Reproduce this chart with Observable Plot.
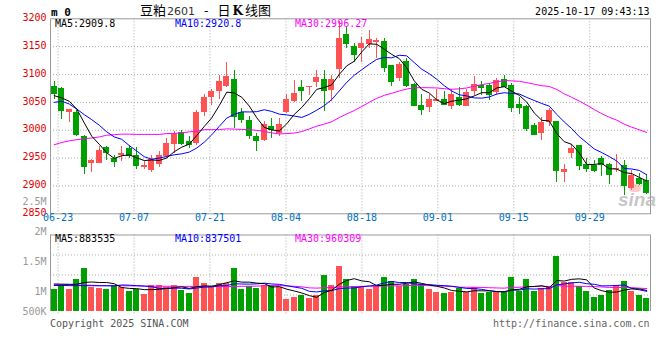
<!DOCTYPE html>
<html><head><meta charset="utf-8">
<script src="https://cdn.jsdelivr.net/npm/d3@7"></script>
<script src="https://cdn.jsdelivr.net/npm/@observablehq/plot@0.6"></script>
<style>
body{margin:0;background:#fff;}
#wrap{position:relative;width:660px;height:360px;overflow:hidden;font-family:"DejaVu Sans Mono",monospace;font-size:10px;background:#fff;}
.t{position:absolute;white-space:pre;line-height:10px;}
#main,#vol{position:absolute;left:0;}
#main{top:0px}
#vol{top:190px}
.ttl span{display:inline-block;}
</style></head><body>
<div id="wrap">
  <div id="main"></div>
  <div id="vol"></div>
  <div class="t" style="left:51px;top:6.5px;font-weight:bold;font-size:11px;line-height:11px;">m 0</div>
  <div class="t ttl" style="left:140px;top:3px;font-family:'Noto Sans CJK SC';font-size:13px;line-height:14px;"><span>豆粕</span><span style="font-family:'DejaVu Sans';font-size:11px;color:#333;margin-left:1px">2601</span><span style="margin-left:9px">-</span><span style="margin-left:9px">日</span><span style="font-family:'DejaVu Serif';font-weight:bold;font-size:12px;margin:0 2px">K</span><span>线图</span></div>
  <div class="t" style="right:10.5px;top:7px;">2025-10-17 09:43:13</div>
  <div class="t" style="left:55px;top:18.5px;color:#000">MA5:2909.8</div>
  <div class="t" style="left:175px;top:18.5px;color:#0000ff">MA10:2920.8</div>
  <div class="t" style="left:295px;top:18.5px;color:#ff00ff">MA30:2996.27</div>
  <div class="t" style="left:55px;top:233.5px;color:#000">MA5:883535</div>
  <div class="t" style="left:175px;top:233.5px;color:#0000ff">MA10:837501</div>
  <div class="t" style="left:295px;top:233.5px;color:#ff00ff">MA30:960309</div>
  <div class="t" style="left:50px;top:318.5px;color:#555">Copyright 2025 SINA.COM</div>
  <div class="t" style="right:10.5px;top:319px;color:#666">http://finance.sina.com.cn</div>
  <div style="position:absolute;left:629px;top:184px;width:12px;height:8px;border-radius:6px;background:rgba(240,110,110,0.35);"></div>
  <div class="t" style="left:618px;top:190px;font-family:'Liberation Sans';font-style:italic;font-weight:bold;font-size:19px;line-height:19px;color:rgba(160,160,160,0.6);">sina</div>
</div>
<script>
// ---- data ----
const dates = ["06-20","06-23","06-24","06-25","06-26","06-27","06-30",
  "07-01","07-02","07-03","07-04","07-07","07-08","07-09","07-10","07-11","07-14","07-15","07-16","07-17","07-18",
  "07-21","07-22","07-23","07-24","07-25","07-28","07-29","07-30","07-31",
  "08-01","08-04","08-05","08-06","08-07","08-08","08-11","08-12","08-13","08-14","08-15",
  "08-18","08-19","08-20","08-21","08-22","08-25","08-26","08-27","08-28","08-29",
  "09-01","09-02","09-03","09-04","09-05","09-08","09-09","09-10","09-11","09-12",
  "09-15","09-16","09-17","09-18","09-19","09-22","09-23","09-24","09-25","09-26","09-29","09-30",
  "10-09","10-10","10-13","10-14","10-15","10-16","10-17"];
const opens = [3078,3075,3032,3031,2988,2940,2941,2969,2950,2954,
  2967,2955,2933,2928,2939,2952,2975,2996,2980,2977,
  3031,3059,3069,3078,3091,3031,3018,2989,2982,3007,
  2995,3031,3052,3077,3078,3086,3091,3071,3109,3172,
  3150,3146,3153,3158,3159,3116,3093,3123,3082,3044,
  3040,3052,3055,3043,3059,3043,3069,3080,3080,3067,
  3091,3080,3046,3043,3009,2995,3013,3015,2925,2958,
  2973,2939,2937,2949,2939,2930,2937,2896,2913,2910];
const highs = [3087,3077,3038,3036,2990,2948,2971,2971,2955,2970,
  2972,2969,2944,2954,2961,2985,2997,3000,2989,3035,
  3064,3074,3098,3122,3108,3039,3024,2994,3015,3021,
  3021,3064,3089,3089,3079,3108,3107,3098,3196,3185,
  3155,3167,3179,3165,3164,3117,3122,3128,3083,3064,
  3064,3073,3070,3074,3076,3074,3096,3087,3083,3092,
  3098,3083,3058,3044,3012,3022,3039,3016,2939,2974,
  2973,2949,2945,2952,2940,2956,2945,2928,2923,2918];
const lows = [3056,3019,3014,2988,2920,2925,2941,2946,2934,2943,
  2949,2930,2930,2924,2934,2949,2959,2973,2968,2973,
  3024,3044,3056,3077,3003,3012,2984,2962,2979,2986,
  2988,3030,3049,3052,3062,3077,3033,3052,3092,3147,
  3122,3122,3146,3129,3104,3079,3088,3077,3042,3027,
  3031,3052,3044,3037,3042,3042,3062,3062,3053,3062,
  3077,3031,3028,2997,2990,2982,3006,2906,2907,2949,
  2928,2925,2924,2917,2903,2925,2883,2892,2900,2885];
const closes = [3066,3035,3037,2993,2935,2946,2963,2960,2943,2959,
  2954,2936,2936,2948,2955,2976,2992,2977,2975,3032,
  3058,3069,3087,3096,3024,3020,2990,2982,3010,3001,
  3010,3055,3066,3072,3079,3095,3071,3091,3165,3156,
  3136,3155,3163,3161,3113,3088,3118,3080,3044,3037,
  3055,3056,3047,3065,3047,3067,3082,3076,3065,3089,
  3079,3041,3040,3003,2992,3013,3035,2927,2930,2968,
  2936,2932,2927,2939,2921,2932,2901,2918,2905,2889];
// volumes in thousands, read against the chart's printed volume axis
const volumes = [1033,1100,1033,1200,1388,1072,1055,1033,1100,1072,
  1000,1033,950,1100,1100,1072,1100,1017,972,1238,
  1138,1083,1138,1138,1388,1033,1083,1055,1100,1100,
  1072,867,905,933,878,933,1267,1100,1417,1200,
  1083,1083,1033,1083,1238,1167,1083,1112,1200,1112,
  1033,978,972,988,1045,988,1072,962,988,978,
  978,1238,1000,1200,1000,1045,1083,1588,1155,1145,
  1083,1000,905,933,1017,1100,1167,1000,933,888];
// moving-average values at the left edge (history before the window)
const ma5Head = [3062,3058,3052,3038];
const ma10Head = [3050,3052,3047,3038,3028,3019,3009,2997,2988];
const ma30Head = [2974,2978,2981,2983,2985,2986,2988,2991,2992,2993,
  2993,2992.5,2992.5,2992.5,2992.5,2994,2994,2995.5,2997,2998,
  3001,3001,3001,3002.5,3002,3001.5,3001,2999.7,2998];
const ma5VolHead = [1125,1122,1120,1120];
const ma10VolHead = [1100,1100,1098,1098,1097,1096,1095,1094,1094];
const ma30VolHead = [1112,1112,1110,1108,1106,1104,1100,1100,1098,1096,
  1094,1092,1090,1088,1088,1086,1086,1085,1085,1084,
  1084,1083,1083,1083,1084,1086,1088,1090,1094];
const priceTicks = [3200,3150,3100,3050,3000,2950,2900,2850];
const volTicks = [2500,2000,1500,1000,500];
const volTickLabels = ["2.5M","2M","1.5M","1M","500K"];
const dateTicks = ["06-23","07-07","07-21","08-04","08-18","09-01","09-15","09-29"];

// ---- build ----
const N = dates.length;
const UP = "#ff5353", DOWN = "#00a000";
const bars = dates.map((date,i)=>({i, date, open:opens[i], high:highs[i], low:lows[i], close:closes[i], vol:volumes[i], up: closes[i] >= opens[i]}));
const movingAvg = (vals, n, head) => vals.map((v,i) => i < n-1 ? head[i] : d3.mean(vals.slice(i-n+1, i+1)));
const ma5 = movingAvg(closes,5,ma5Head), ma10 = movingAvg(closes,10,ma10Head), ma30 = movingAvg(closes,30,ma30Head);
const vma5 = movingAvg(volumes,5,ma5VolHead), vma10 = movingAvg(volumes,10,ma10VolHead), vma30 = movingAvg(volumes,30,ma30VolHead);
// Sina spreads its date grid over N-1 steps across the panel
const gridX = d => dates.indexOf(d) * N / (N - 1);
const cx = (d,i) => i + 0.5;
const grid = {stroke:"#aaa", strokeDasharray:"1,2"};
const font = {fontFamily:"DejaVu Sans Mono", fontSize:10};

const mainPlot = Plot.plot({
  width:660, height:222, marginLeft:50, marginRight:10, marginTop:18.3, marginBottom:8.7,
  style:{background:"transparent", overflow:"visible"},
  x:{domain:[0,N], axis:null},
  y:{domain:[2850,3200], axis:null},
  marks:[
    Plot.ruleY(priceTicks.slice(1,-1), grid),
    Plot.ruleX(dateTicks, {x: gridX, ...grid}),
    Plot.frame({stroke:"#999"}),
    Plot.ruleX(bars, {x: d=>d.i+0.5, y1:"low", y2:"high", stroke: d=>d.up?UP:DOWN, shapeRendering:"crispEdges"}),
    Plot.rect(bars, {x1: d=>d.i+0.12, x2: d=>d.i+0.88, y1:"open", y2:"close", fill: d=>d.up?UP:DOWN, shapeRendering:"crispEdges"}),
    Plot.ruleY(bars, {x1: d=>d.i+0.12, x2: d=>d.i+0.88, y:"close", stroke: d=>d.up?UP:DOWN, shapeRendering:"crispEdges"}),
    Plot.line(ma30, {x: cx, y: d=>d, stroke:"#ff00ff", strokeWidth:1}),
    Plot.line(ma10, {x: cx, y: d=>d, stroke:"#0000ff", strokeWidth:1}),
    Plot.line(ma5, {x: cx, y: d=>d, stroke:"#000", strokeWidth:1}),
    Plot.text(priceTicks, {y: d=>d, text: d=>String(d), frameAnchor:"left", textAnchor:"end", dx:-4, dy:-1, fill:"#e00000", ...font}),
    Plot.text(dateTicks, {x: gridX, text: d=>d, frameAnchor:"bottom", dy:7, fill:"#0070c0", ...font})
  ]
});
document.getElementById("main").append(mainPlot);

const volLo = 608.333, volHi = 1941.667, volBase = 666.667;
const volGrid = d3.range(1,4).map(k => volLo + k*(volHi-volLo)/4);
const volPlot = Plot.plot({
  width:660, height:170, marginLeft:50, marginRight:10, marginTop:44.5, marginBottom:45.5,
  style:{background:"transparent", overflow:"visible"},
  x:{domain:[0,N], axis:null},
  y:{domain:[volLo, volHi], axis:null},
  marks:[
    Plot.ruleY(volGrid, grid),
    Plot.ruleX(dateTicks, {x: gridX, ...grid}),
    Plot.ruleY([volHi], {stroke:"#999"}),
    Plot.ruleX([0,N], {y1: volBase, y2: volHi, stroke:"#999"}),
    Plot.rect(bars, {x1: d=>d.i+0.12, x2: d=>d.i+0.88, y1: () => volBase, y2:"vol", fill: d=>d.up?UP:DOWN, shapeRendering:"crispEdges"}),
    Plot.line(vma30, {x: cx, y: d=>d, stroke:"#ff00ff", strokeWidth:1}),
    Plot.line(vma10, {x: cx, y: d=>d, stroke:"#0000ff", strokeWidth:1}),
    Plot.line(vma5, {x: cx, y: d=>d, stroke:"#000", strokeWidth:1}),
    Plot.text(volTicks, {y: d=>Math.max(d, volBase), text: (d,i)=>volTickLabels[i], frameAnchor:"left", textAnchor:"end", dx:-4, fill:"#999", ...font})
  ]
});
document.getElementById("vol").append(volPlot);
</script>
</body></html>
